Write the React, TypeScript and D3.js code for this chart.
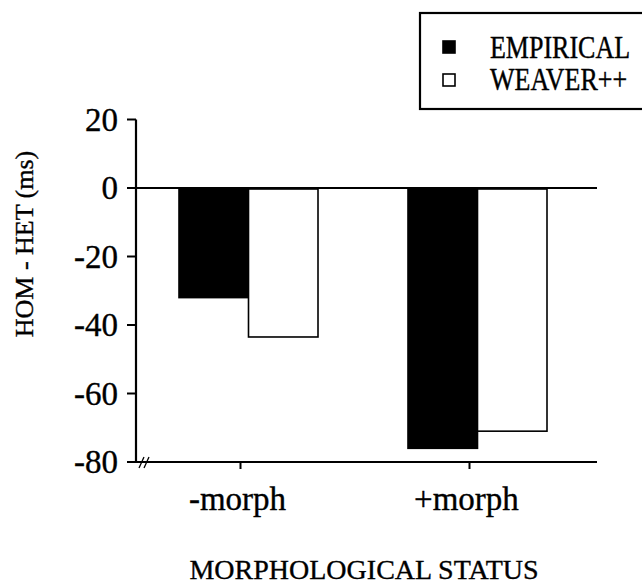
import React from "react";
import * as d3 from "d3";

const categories = ["-morph", "+morph"];
const seriesNames = ["EMPIRICAL", "WEAVER++"];
const empirical = [-32, -76];
const weaver = [-43.5, -71];
const yTicks = [20, 0, -20, -40, -60, -80];

const W = 642;
const H = 584;
const FONT = "'Liberation Serif', 'Times New Roman', serif";

export default function App() {
  const y = d3.scaleLinear().domain([-80, 20]).range([462, 119.5]);
  const x = d3.scaleBand<string>().domain(categories).range([179, 547]).paddingInner(0.393).paddingOuter(0);
  const xs = d3.scaleBand<string>().domain(seriesNames).range([0, x.bandwidth()]).padding(0);
  const fills = ["#000", "#fff"];
  const values = [empirical, weaver];
  const axisX = 136;
  const axisRight = 597;
  const tickShift = -8;
  const ts = { stroke: "#000", strokeWidth: 0.35 };

  return (
    <svg width={W} height={H} style={{ position: "absolute", left: 0, top: 0, background: "#fff" }} fontFamily={FONT}>
      <rect x={0} y={0} width={W} height={H} fill="#fff" />
      {/* bars */}
      {categories.map((c, i) =>
        seriesNames.map((s, j) => {
          const v = values[j][i];
          const x0 = (x(c) ?? 0) + (xs(s) ?? 0);
          return (
            <rect
              key={c + s}
              x={x0}
              y={y(0) + 1}
              width={xs.bandwidth()}
              height={y(v) - y(0) - 1}
              fill={fills[j]}
              stroke="#000"
              strokeWidth={1.6}
            />
          );
        })
      )}
      {/* zero line */}
      <line x1={axisX} x2={axisRight} y1={y(0)} y2={y(0)} stroke="#000" strokeWidth={2.2} />
      {/* y axis */}
      <line x1={axisX} x2={axisX} y1={y(-80)} y2={y(20)} stroke="#000" strokeWidth={2.2} />
      {yTicks.map((t) => (
        <g key={t}>
          <line x1={axisX - 9} x2={axisX} y1={y(t)} y2={y(t)} stroke="#000" strokeWidth={2} />
          <text x={118} y={y(t) + 11} textAnchor="end" fontSize={33} fill="#000" {...ts}>
            {t}
          </text>
        </g>
      ))}
      {/* x axis */}
      <line x1={axisX} x2={axisRight} y1={y(-80)} y2={y(-80)} stroke="#000" strokeWidth={2.2} />
      <line x1={139} x2={144} y1={y(-80) + 6} y2={y(-80) - 5} stroke="#000" strokeWidth={1.3} />
      <line x1={144} x2={149} y1={y(-80) + 6} y2={y(-80) - 5} stroke="#000" strokeWidth={1.3} />
      {categories.map((c) => {
        const cx = (x(c) ?? 0) + x.bandwidth() / 2 + tickShift;
        return (
          <g key={c}>
            <line x1={cx} x2={cx} y1={y(-80)} y2={y(-80) + 7} stroke="#000" strokeWidth={2} />
            <text x={cx - 3} y={510} textAnchor="middle" fontSize={33} fill="#000" {...ts}>
              {c}
            </text>
          </g>
        );
      })}
      {/* axis titles */}
      <text
        transform={`translate(33, 244) rotate(-90)`}
        textAnchor="middle"
        fontSize={26}
        fill="#000"
        {...ts}
      >
        HOM - HET (ms)
      </text>
      <text x={364} y={579} textAnchor="middle" fontSize={28} fill="#000" {...ts}>
        MORPHOLOGICAL STATUS
      </text>
      {/* legend */}
      <rect x={420} y={13} width={260} height={96} fill="#fff" stroke="#000" strokeWidth={2.2} />
      {seriesNames.map((s, j) => (
        <g key={s}>
          <rect
            x={443}
            y={41 + j * 33}
            width={12}
            height={12}
            fill={fills[j]}
            stroke="#000"
            strokeWidth={1.6}
          />
          <text
            transform={`translate(490, ${58 + j * 32}) scale(1, 1.2)`}
            fontSize={26}
            fill="#000"
            {...ts}
          >
            {s}
          </text>
        </g>
      ))}
    </svg>
  );
}
